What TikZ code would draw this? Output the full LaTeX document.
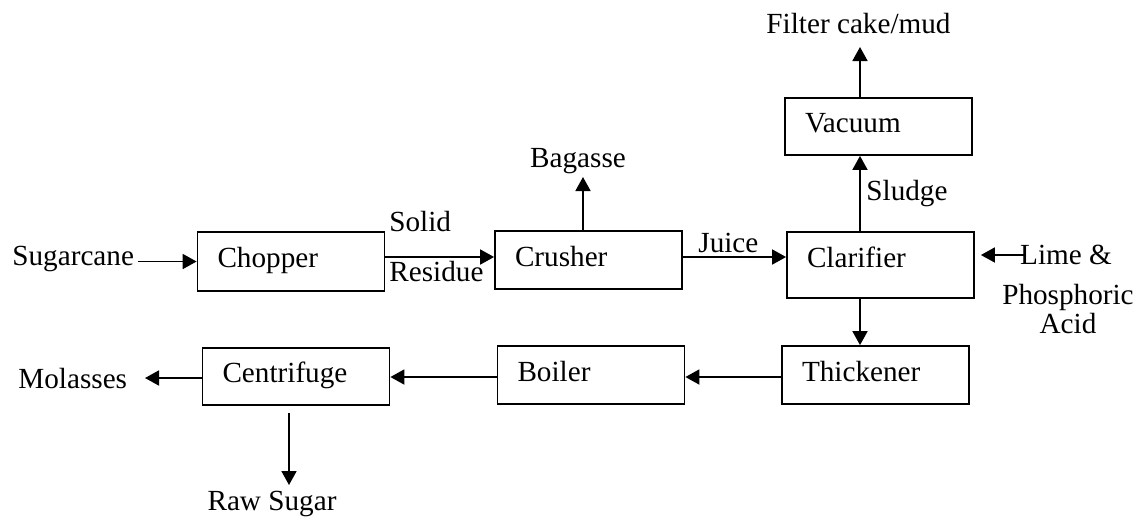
\documentclass[tikz,border=0pt]{standalone}
\usepackage{fontspec}
\setmainfont{Liberation Serif}
\usetikzlibrary{arrows.meta}
\begin{document}
\begin{tikzpicture}[x=0.5pt,y=-0.5pt,
  font=\fontsize{14.6pt}{16.5pt}\selectfont,
  box/.style={draw, line width=0.9pt, minimum height=#1, text width=73.5pt, inner xsep=10pt, inner ysep=0pt, align=left, text height=0.8em, text depth=0.2em},
  lbl/.style={inner sep=0pt, anchor=base west},
  clbl/.style={inner sep=0pt, anchor=base},
  arr/.style={line width=0.9pt, -{Triangle[length=7pt,width=7.5pt]}},
]
\useasboundingbox (0,0) rectangle (1141,516);

% process boxes
\node[box=29.5pt] (chopper) at (291,261.5) {Chopper};
\node[box=29pt] (crusher) at (588.5,260) {Crusher};
\node[box=33pt, text depth=0.59em] (clarifier) at (880.5,265) {Clarifier};
\node[box=28.5pt] (vacuum) at (878.5,126.5) {Vacuum};
\node[box=29pt] (thickener) at (875.5,375) {Thickener};
\node[box=29pt] (boiler) at (591,375) {Boiler};
\node[box=28.5pt] (centrifuge) at (296,376.5) {Centrifuge};

% texts
\node[lbl] (sug) at (12,265) {Sugarcane};
\node[lbl] (solid) at (389,231) {Solid};
\node[lbl] (residue) at (389,281) {Residue};
\node[lbl] (juice) at (698,252) {Juice};
\node[lbl] (sludge) at (866,200) {Sludge};
\node[clbl] (lime) at (1066,264) {Lime \&};
\node[clbl] (phos) at (1068,304) {Phosphoric};
\node[clbl] (acid) at (1068,333) {Acid};
\node[lbl] (molasses) at (18,388) {Molasses};
\node[clbl] (bagasse) at (578,167) {Bagasse};
\node[clbl] (filter) at (858.5,33) {Filter cake/mud};
\node[clbl] (rawsugar) at (272,510) {Raw Sugar};

% free ends
\coordinate (bg) at (583,177);
\coordinate (fc) at (860,47);
\coordinate (li) at (1024,255);
\coordinate (mo) at (145,378);
\coordinate (rs) at (289,485);

% connectors
\draw[arr] ([xshift=2pt]sug.east |- chopper.west) -- (chopper.west);
\draw[arr] ([yshift=2.25pt]chopper.east) -- ([yshift=2.25pt]chopper.east -| crusher.west);
\draw[arr] (crusher.north -| bg) -- (bg);
\draw[arr] ([yshift=1.5pt]crusher.east) -- ([yshift=1.5pt]crusher.east -| clarifier.west);
\draw[arr] (clarifier.north -| fc) -- (vacuum.south -| fc);
\draw[arr] (vacuum.north -| fc) -- (fc);
\draw[arr] (li) -- ([xshift=3pt]clarifier.east |- li);
\draw[arr] (clarifier.south -| fc) -- (thickener.north -| fc);
\draw[arr] ([yshift=-1pt]thickener.west) -- ([yshift=-1pt]thickener.west -| boiler.east);
\draw[arr] ([yshift=-1pt]boiler.west) -- ([yshift=-1pt]boiler.west -| centrifuge.east);
\draw[arr] (centrifuge.west |- mo) -- (mo);
\draw[arr] ([yshift=-3.5pt]centrifuge.south -| rs) -- (rs);
\end{tikzpicture}
\end{document}
